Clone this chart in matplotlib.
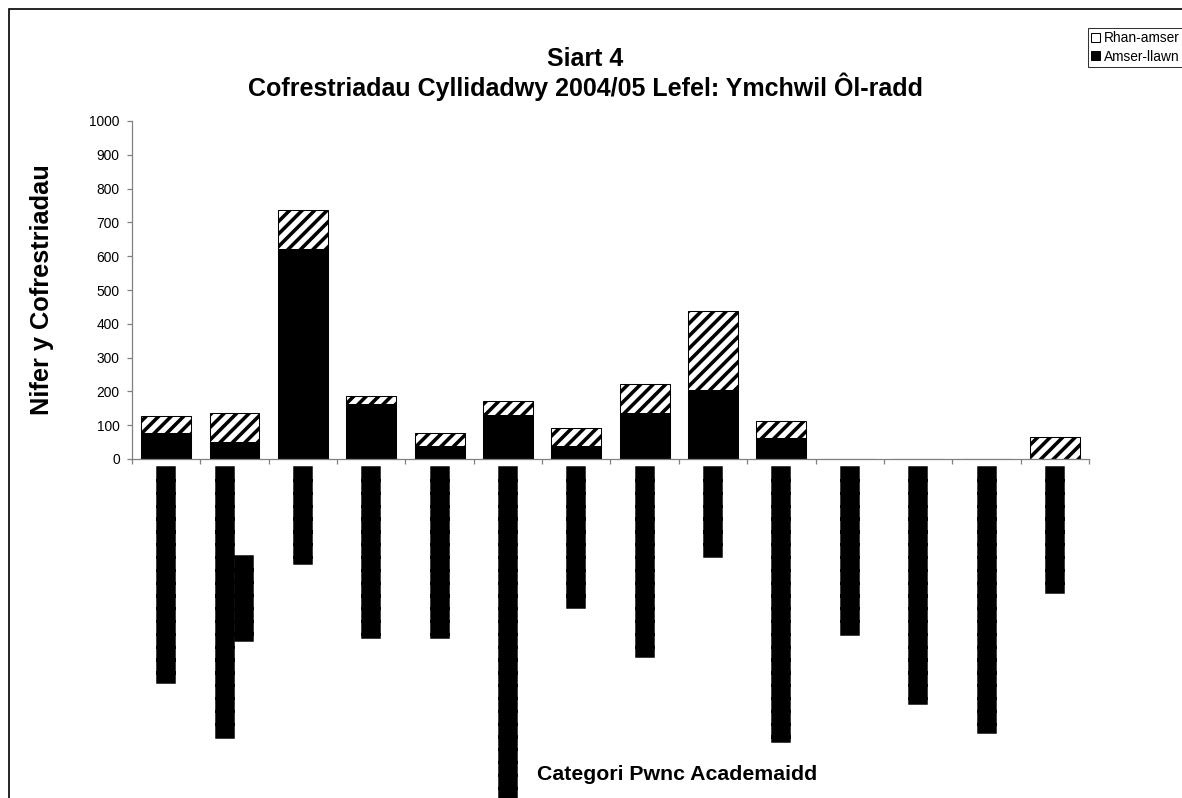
import matplotlib
matplotlib.use('Agg')
import matplotlib.pyplot as plt
import matplotlib.patheffects as pe
from matplotlib.patches import Patch, Rectangle
import numpy as np

# data
full_time = [77, 51, 621, 163, 37, 130, 37, 137, 204, 62, 0, 0, 0, 0]
part_time = [50, 86, 116, 24, 39, 42, 55, 85, 235, 49, 0, 0, 0, 66]
series_names = ['Rhan-amser', 'Amser-llawn']
# category labels came out as solid blocks in the source, kept that way
B = '\u2588'
tick_labels = [B*16 + '\u258a',
               B*6 + '\u258c' + '\n' + B*21,
               B*7 + '\u258c',
               B*13 + '\u258e',
               B*13 + '\u258e',
               B*26,
               B*10 + '\u2589',
               B*14 + '\u258a',
               B*6 + '\u2589',
               B*21 + '\u258d',
               B*13,
               B*18 + '\u258d',
               B*20 + '\u258b',
               B*9 + '\u258a']
title = 'Siart 4\nCofrestriadau Cyllidadwy 2004/05 Lefel: Ymchwil Ôl-radd'
ylabel = 'Nifer y Cofrestriadau'
xlabel = 'Categori Pwnc Academaidd'

plt.rcParams['font.family'] = ['Liberation Sans', 'DejaVu Sans']
plt.rcParams['hatch.linewidth'] = 1.7

W, H = 1182, 798
fig = plt.figure(figsize=(W/150, H/150), dpi=150)
ax = fig.add_axes([132/W, 1-459/H, (1089-132)/W, (459-121)/H])

x = np.arange(len(full_time))
ax.bar(x, full_time, width=0.73, color='black', edgecolor='black', linewidth=0.5)
ax.bar(x, part_time, bottom=full_time, width=0.73, color='white',
       edgecolor='black', hatch='////', linewidth=0.5)

ax.set_xlim(-0.5, len(x)-0.5)
ax.set_ylim(0, 1000)
ax.set_yticks(np.arange(0, 1001, 100))
ax.tick_params(axis='y', labelsize=6.6, length=2.4, width=0.6, color='#808080', pad=3.5)

ax.set_xticks(x)
ax.set_xticklabels(tick_labels, rotation=270, fontsize=8.0, family='DejaVu Sans',
                   va='top', ha='center', multialignment='center', linespacing=1.0)
for t in ax.get_xticklabels():
    t.set_path_effects([pe.withStroke(linewidth=1.2, foreground='black',
                                      joinstyle='miter', capstyle='projecting')])
ax.tick_params(axis='x', which='major', length=0, pad=4)
ax.set_xticks(np.arange(-0.5, len(x), 1), minor=True)
ax.tick_params(axis='x', which='minor', length=2.4, width=0.6, color='#808080')

for s in ['top', 'right']:
    ax.spines[s].set_visible(False)
for s in ['left', 'bottom']:
    ax.spines[s].set_color('#808080')
    ax.spines[s].set_linewidth(0.6)

fig.text(585/W, 1-47/H, title, ha='center', va='top', fontsize=12,
         fontweight='bold', linespacing=1.05)
fig.text(42/W, 1-290/H, ylabel, rotation=90, ha='center', va='center',
         fontsize=12.2, fontweight='bold')
fig.text(677/W, 1-775/H, xlabel, ha='center', va='center',
         fontsize=10.2, fontweight='bold')

handles = [Patch(facecolor='white', edgecolor='black', linewidth=0.5),
           Patch(facecolor='black', edgecolor='black', linewidth=0.5)]
leg = fig.legend(handles, series_names, loc='upper left',
                 bbox_to_anchor=(1088/W, 1-28/H), fontsize=6.6, frameon=True,
                 fancybox=False, edgecolor='black', handlelength=0.6,
                 handleheight=0.6, handletextpad=0.3, borderpad=0.25,
                 labelspacing=0.3, borderaxespad=0)
leg.get_frame().set_linewidth(0.5)

fig.patches.append(Rectangle((9/W, -0.1), 1.2, 1.1 - 9/H, transform=fig.transFigure,
                             fill=False, edgecolor='black', linewidth=0.8))

fig.savefig('out.png', dpi=150)
